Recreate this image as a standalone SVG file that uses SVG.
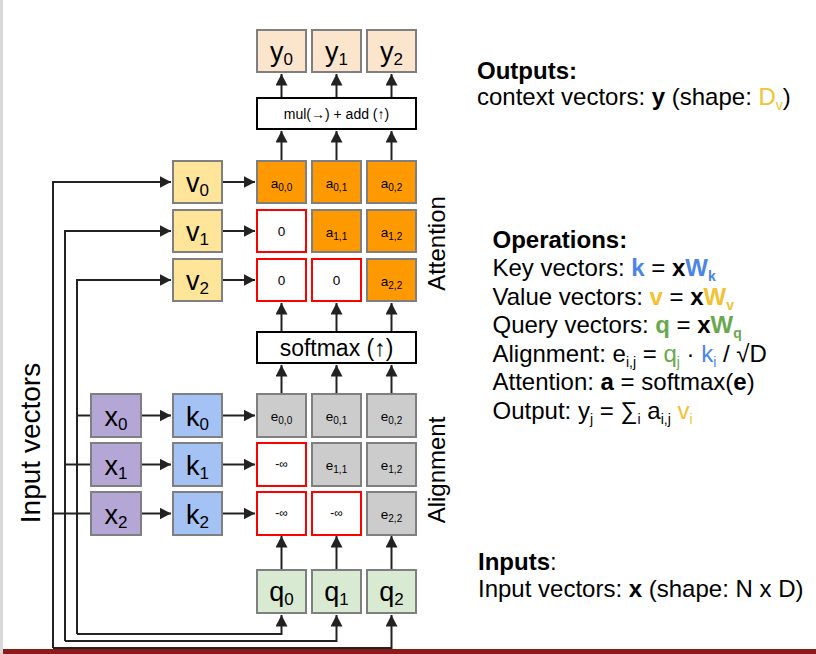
<svg xmlns="http://www.w3.org/2000/svg" width="816" height="654" viewBox="0 0 816 654">
<defs>
<marker id="ah" markerUnits="userSpaceOnUse" markerWidth="13" markerHeight="13" refX="11.5" refY="6" orient="auto">
<path d="M0,0 L11.5,6 L0,12 z" fill="#222"/>
</marker>
<style>
text{font-family:"Liberation Sans",Arial,sans-serif;fill:#000}
.box{stroke:#7f7f7f;stroke-width:2}
.mask{fill:#fff;stroke:#ff0000;stroke-width:2}
.op{fill:#fff;stroke:#000;stroke-width:2}
.cy{fill:#fce5cd}.cv{fill:#ffe599}.ca{fill:#ff9900}.cx{fill:#b4a7d6}.ck{fill:#a4c2f4}.ce{fill:#cccccc}.cq{fill:#d9ead3}
.big{font-size:27px;text-anchor:middle}
.sm{font-size:13.5px;text-anchor:middle}
.inf{font-size:12px;text-anchor:middle}
.bs{font-size:17px}
.ss{font-size:10px}
.conn path{fill:none;stroke:#222;stroke-width:2}
.arr{marker-end:url(#ah)}
.rt{font-size:24px}
.b{font-weight:bold}
.sub{font-size:14px}
.blue{fill:#4a86e8}.yel{fill:#f1c232}.grn{fill:#6aa84f}
.side{font-size:24px;text-anchor:middle}
</style>
</defs>
<rect x="0" y="0" width="816" height="654" fill="#fff"/>
<rect x="0" y="0" width="3" height="654" fill="#d9d9d9"/>
<rect x="3" y="649" width="813" height="5" fill="#8b1a1a"/>

<g class="conn">
<path class="arr" d="M53 648 V182 H171"/>
<path class="arr" d="M53 648 H391.5 V615"/>
<path d="M53 513.5 H90"/>
<path class="arr" d="M65 641 V231 H171"/>
<path class="arr" d="M65 641 H336.5 V615"/>
<path d="M65 464.5 H90"/>
<path class="arr" d="M77 634 V280 H171"/>
<path class="arr" d="M77 634 H281.5 V615"/>
<path d="M77 415.5 H90"/>
<path class="arr" d="M223 182 H255"/>
<path class="arr" d="M223 231 H255"/>
<path class="arr" d="M223 280 H255"/>
<path class="arr" d="M142 415.5 H171"/>
<path class="arr" d="M142 464.5 H171"/>
<path class="arr" d="M142 513.5 H171"/>
<path class="arr" d="M223 415.5 H255"/>
<path class="arr" d="M223 464.5 H255"/>
<path class="arr" d="M223 513.5 H255"/>
<path class="arr" d="M281.5 569 V536"/>
<path class="arr" d="M336.5 569 V536"/>
<path class="arr" d="M391.5 569 V536"/>
<path class="arr" d="M281.5 393 V365"/>
<path class="arr" d="M336.5 393 V365"/>
<path class="arr" d="M391.5 393 V365"/>
<path class="arr" d="M281.5 331 V303"/>
<path class="arr" d="M336.5 331 V303"/>
<path class="arr" d="M391.5 331 V303"/>
<path class="arr" d="M281.5 160 V131"/>
<path class="arr" d="M336.5 160 V131"/>
<path class="arr" d="M391.5 160 V131"/>
<path class="arr" d="M281.5 97 V74"/>
<path class="arr" d="M336.5 97 V74"/>
<path class="arr" d="M391.5 97 V74"/>
</g>

<g id="y0"><rect class="box cy" x="257" y="30" width="49" height="42"/><text class="big" x="281.5" y="61">y<tspan class="bs" dy="4">0</tspan></text></g>
<g id="y1"><rect class="box cy" x="312" y="30" width="49" height="42"/><text class="big" x="336.5" y="61">y<tspan class="bs" dy="4">1</tspan></text></g>
<g id="y2"><rect class="box cy" x="367" y="30" width="49" height="42"/><text class="big" x="391.5" y="61">y<tspan class="bs" dy="4">2</tspan></text></g>

<g id="mul"><rect class="op" x="257" y="98" width="159" height="31"/><text x="336.5" y="118.5" style="font-size:14px;text-anchor:middle">mul(→) + add (↑)</text></g>

<g id="v0"><rect class="box cv" x="173" y="161" width="49" height="42"/><text class="big" x="197.5" y="192">v<tspan class="bs" dy="4">0</tspan></text></g>
<g id="v1"><rect class="box cv" x="173" y="210" width="49" height="42"/><text class="big" x="197.5" y="241">v<tspan class="bs" dy="4">1</tspan></text></g>
<g id="v2"><rect class="box cv" x="173" y="259" width="49" height="42"/><text class="big" x="197.5" y="290">v<tspan class="bs" dy="4">2</tspan></text></g>

<g id="a00"><rect class="box ca" x="257" y="161" width="49" height="42"/><text class="sm" x="281.5" y="187.5">a<tspan class="ss" dy="3.5">0,0</tspan></text></g>
<g id="a01"><rect class="box ca" x="312" y="161" width="49" height="42"/><text class="sm" x="336.5" y="187.5">a<tspan class="ss" dy="3.5">0,1</tspan></text></g>
<g id="a02"><rect class="box ca" x="367" y="161" width="49" height="42"/><text class="sm" x="391.5" y="187.5">a<tspan class="ss" dy="3.5">0,2</tspan></text></g>
<g id="a10"><rect class="mask" x="257" y="210" width="49" height="42"/><text class="sm" x="281.5" y="236">0</text></g>
<g id="a11"><rect class="box ca" x="312" y="210" width="49" height="42"/><text class="sm" x="336.5" y="236.5">a<tspan class="ss" dy="3.5">1,1</tspan></text></g>
<g id="a12"><rect class="box ca" x="367" y="210" width="49" height="42"/><text class="sm" x="391.5" y="236.5">a<tspan class="ss" dy="3.5">1,2</tspan></text></g>
<g id="a20"><rect class="mask" x="257" y="259" width="49" height="42"/><text class="sm" x="281.5" y="285">0</text></g>
<g id="a21"><rect class="mask" x="312" y="259" width="49" height="42"/><text class="sm" x="336.5" y="285">0</text></g>
<g id="a22"><rect class="box ca" x="367" y="259" width="49" height="42"/><text class="sm" x="391.5" y="285.5">a<tspan class="ss" dy="3.5">2,2</tspan></text></g>

<g id="attention-label"><text class="side" transform="translate(445,243.5) rotate(-90)">Attention</text></g>

<g id="softmax"><rect class="op" x="257" y="332" width="159" height="31"/><text x="336.5" y="356" style="font-size:23px;text-anchor:middle">softmax (↑)</text></g>

<g id="x0"><rect class="box cx" x="91" y="394" width="50" height="43"/><text class="big" x="116" y="426">x<tspan class="bs" dy="4">0</tspan></text></g>
<g id="x1"><rect class="box cx" x="91" y="443" width="50" height="43"/><text class="big" x="116" y="475">x<tspan class="bs" dy="4">1</tspan></text></g>
<g id="x2"><rect class="box cx" x="91" y="492" width="50" height="43"/><text class="big" x="116" y="524">x<tspan class="bs" dy="4">2</tspan></text></g>

<g id="k0"><rect class="box ck" x="173" y="394" width="49" height="43"/><text class="big" x="197.5" y="426">k<tspan class="bs" dy="4">0</tspan></text></g>
<g id="k1"><rect class="box ck" x="173" y="443" width="49" height="43"/><text class="big" x="197.5" y="475">k<tspan class="bs" dy="4">1</tspan></text></g>
<g id="k2"><rect class="box ck" x="173" y="492" width="49" height="43"/><text class="big" x="197.5" y="524">k<tspan class="bs" dy="4">2</tspan></text></g>

<g id="e00"><rect class="box ce" x="257" y="394" width="49" height="43"/><text class="sm" x="281.5" y="420.5">e<tspan class="ss" dy="3.5">0,0</tspan></text></g>
<g id="e01"><rect class="box ce" x="312" y="394" width="49" height="43"/><text class="sm" x="336.5" y="420.5">e<tspan class="ss" dy="3.5">0,1</tspan></text></g>
<g id="e02"><rect class="box ce" x="367" y="394" width="49" height="43"/><text class="sm" x="391.5" y="420.5">e<tspan class="ss" dy="3.5">0,2</tspan></text></g>
<g id="e10"><rect class="mask" x="257" y="443" width="49" height="43"/><text class="inf" x="281.5" y="467.5">-∞</text></g>
<g id="e11"><rect class="box ce" x="312" y="443" width="49" height="43"/><text class="sm" x="336.5" y="469.5">e<tspan class="ss" dy="3.5">1,1</tspan></text></g>
<g id="e12"><rect class="box ce" x="367" y="443" width="49" height="43"/><text class="sm" x="391.5" y="469.5">e<tspan class="ss" dy="3.5">1,2</tspan></text></g>
<g id="e20"><rect class="mask" x="257" y="492" width="49" height="43"/><text class="inf" x="281.5" y="516.5">-∞</text></g>
<g id="e21"><rect class="mask" x="312" y="492" width="49" height="43"/><text class="inf" x="336.5" y="516.5">-∞</text></g>
<g id="e22"><rect class="box ce" x="367" y="492" width="49" height="43"/><text class="sm" x="391.5" y="518.5">e<tspan class="ss" dy="3.5">2,2</tspan></text></g>

<g id="alignment-label"><text class="side" transform="translate(445,470) rotate(-90)">Alignment</text></g>

<g id="q0"><rect class="box cq" x="257" y="570" width="49" height="43"/><text class="big" x="281.5" y="601">q<tspan class="bs" dy="4">0</tspan></text></g>
<g id="q1"><rect class="box cq" x="312" y="570" width="49" height="43"/><text class="big" x="336.5" y="601">q<tspan class="bs" dy="4">1</tspan></text></g>
<g id="q2"><rect class="box cq" x="367" y="570" width="49" height="43"/><text class="big" x="391.5" y="601">q<tspan class="bs" dy="4">2</tspan></text></g>

<g id="input-vectors-label"><text transform="translate(40,443) rotate(-90)" style="font-size:28px;text-anchor:middle">Input vectors</text></g>

<g id="outputs-text">
<text class="rt b" x="477" y="79">Outputs:</text>
<text class="rt" x="477" y="104.5">context vectors: <tspan class="b">y</tspan> (shape: <tspan class="yel">D</tspan><tspan class="yel sub" dy="5">v</tspan><tspan dy="-5">)</tspan></text>
</g>

<g id="operations-text">
<text class="rt b" x="492.5" y="247.5">Operations:</text>
<text class="rt" x="492.5" y="276">Key vectors: <tspan class="b blue">k</tspan> = <tspan class="b">x</tspan><tspan class="b blue">W</tspan><tspan class="b blue sub" dy="5">k</tspan></text>
<text class="rt" x="492.5" y="304.5">Value vectors: <tspan class="b yel">v</tspan> = <tspan class="b">x</tspan><tspan class="b yel">W</tspan><tspan class="b yel sub" dy="5">v</tspan></text>
<text class="rt" x="492.5" y="333">Query vectors: <tspan class="b grn">q</tspan> = <tspan class="b">x</tspan><tspan class="b grn">W</tspan><tspan class="b grn sub" dy="5">q</tspan></text>
<text class="rt" x="492.5" y="361.5">Alignment: e<tspan class="sub" dy="5">i,j</tspan><tspan dy="-5"> = </tspan><tspan class="grn">q</tspan><tspan class="grn sub" dy="5">j</tspan><tspan dy="-5"> · </tspan><tspan class="blue">k</tspan><tspan class="blue sub" dy="5">i</tspan><tspan dy="-5"> / √D</tspan></text>
<text class="rt" x="492.5" y="390">Attention: <tspan class="b">a</tspan> = softmax(<tspan class="b">e</tspan>)</text>
<text class="rt" x="492.5" y="418.5">Output: y<tspan class="sub" dy="5">j</tspan><tspan dy="-5"> = ∑</tspan><tspan class="sub" dy="5">i</tspan><tspan dy="-5"> a</tspan><tspan class="sub" dy="5">i,j</tspan><tspan dy="-5"> </tspan><tspan class="yel">v</tspan><tspan class="yel sub" dy="5">i</tspan></text>
</g>

<g id="inputs-text">
<text class="rt" x="478" y="570"><tspan class="b">Inputs</tspan>:</text>
<text class="rt" x="478" y="596.5">Input vectors: <tspan class="b">x</tspan> (shape: N x D)</text>
</g>
</svg>
